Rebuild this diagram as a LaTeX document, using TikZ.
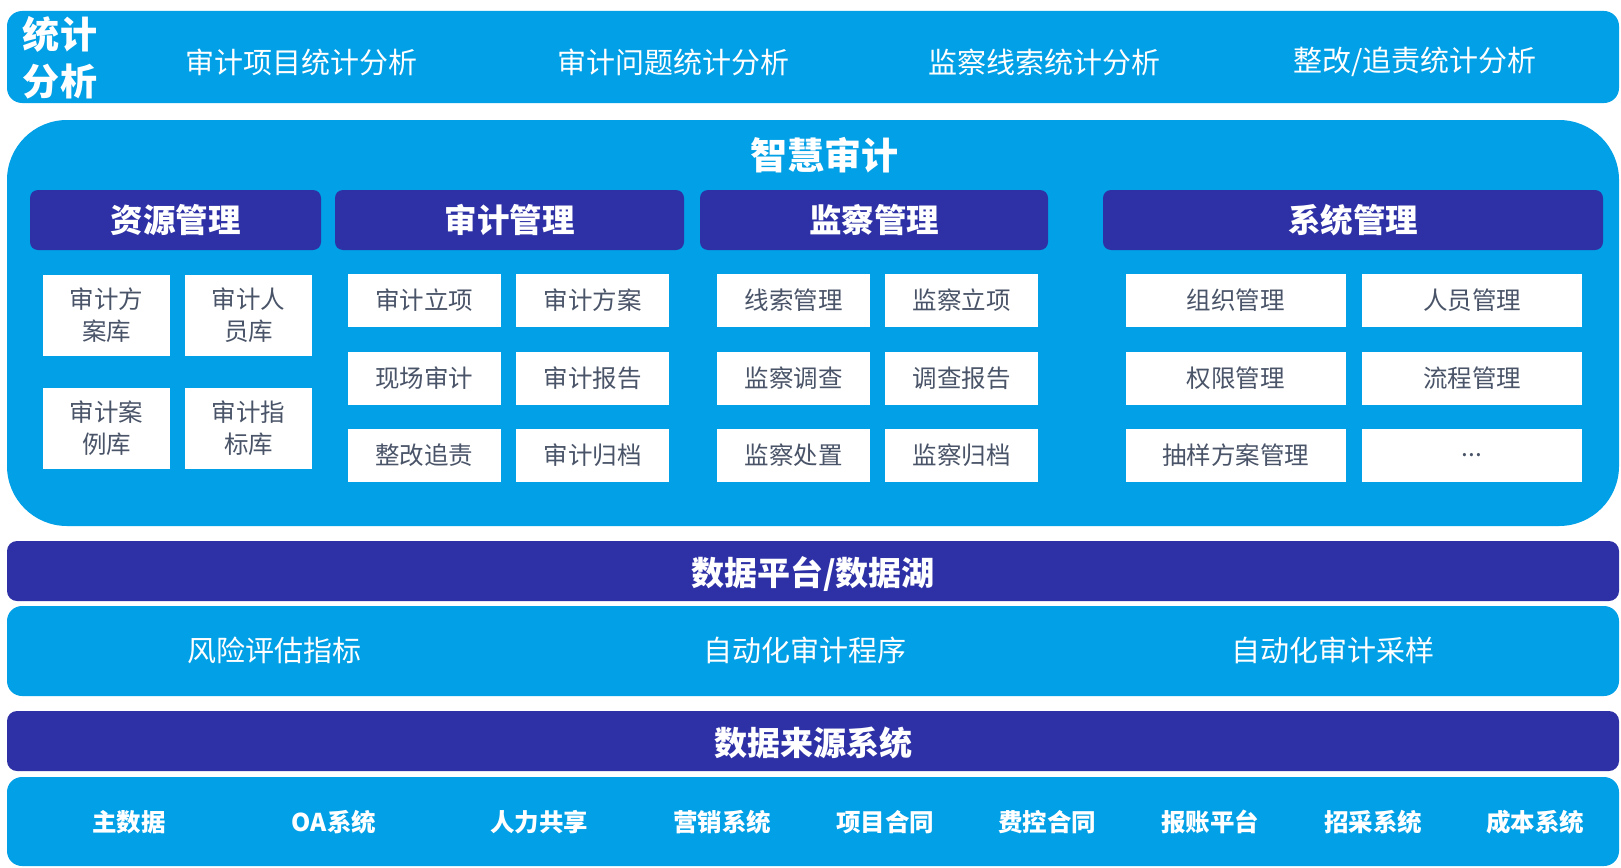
\documentclass[tikz,border=0pt]{standalone}
\usepackage{fontspec}
\setmainfont{Noto Sans CJK SC}
\definecolor{lblue}{RGB}{2,160,230}
\definecolor{dpurple}{RGB}{46,49,166}
\definecolor{boxtext}{RGB}{74,84,104}
\tikzset{
  base/.style={inner sep=0pt, outer sep=0pt, anchor=center},
  lightbar/.style={base, fill=lblue, rounded corners=15pt},
  darkbar/.style={base, fill=dpurple, rounded corners=10pt},
  header/.style={base, fill=dpurple, rounded corners=8pt, minimum height=60pt, text=white, font=\fontsize{32.5}{38}\selectfont\bfseries},
  wbox/.style={base, fill=white, text=boxtext, align=center, font=\fontsize{24.5}{32}\selectfont},
  toptxt/.style={text=white, font=\fontsize{29}{34}\selectfont},
  midtxt/.style={text=white, font=\fontsize{29}{34}\selectfont},
  bigtxt/.style={text=white, font=\fontsize{33}{38}\selectfont\bfseries},
  srctxt/.style={text=white, font=\fontsize{24.5}{30}\selectfont\bfseries},
}
\begin{document}
\begin{tikzpicture}[x=1pt,y=-1pt]
\useasboundingbox (0,0) rectangle (1621,867);
% top statistics bar
\node[lightbar, minimum width=1612pt, minimum height=92pt] (top) at (813,57) {};
\node[text=white, align=left, font=\fontsize{37}{47}\selectfont\bfseries] (tj) at (60,58) {统计\\分析};
\node[toptxt] (t1) at (301,62) {审计项目统计分析};
\node[toptxt] (t2) at (673,62) {审计问题统计分析};
\node[toptxt] (t3) at (1044,62) {监察线索统计分析};
\node[toptxt] (t4) at (1415,62) {整改/追责统计分析};
% big smart-audit box
\node[base, fill=lblue, rounded corners=60pt, minimum width=1612pt, minimum height=406pt] (big) at (813,323) {};
\node[text=white, font=\fontsize{37}{42}\selectfont\bfseries] (zh) at (824,155) {智慧审计};
% headers
\node[header, minimum width=291pt] (h1) at (175.5,220) {资源管理};
\node[header, minimum width=349pt] (h2) at (509.5,220) {审计管理};
\node[header, minimum width=348pt] (h3) at (874,220) {监察管理};
\node[header, minimum width=500pt] (h4) at (1353,220) {系统管理};
% resource boxes
\tikzset{rbox/.style={wbox, minimum width=127pt, minimum height=81pt}}
\node[rbox] (r1) at (106.5,315.5) {审计方\\案库};
\node[rbox] (r2) at (248.5,315.5) {审计人\\员库};
\node[rbox] (r3) at (106.5,428.5) {审计案\\例库};
\node[rbox] (r4) at (248.5,428.5) {审计指\\标库};
% audit boxes
\tikzset{abox/.style={wbox, minimum width=153pt, minimum height=53pt}}
\node[abox] (a1) at (424,300) {审计立项};
\node[abox] (a2) at (592.5,300) {审计方案};
\node[abox] (a3) at (424,378.5) {现场审计};
\node[abox] (a4) at (592.5,378.5) {审计报告};
\node[abox] (a5) at (424,455.5) {整改追责};
\node[abox] (a6) at (592.5,455.5) {审计归档};
% supervision boxes
\node[abox] (s1) at (793.5,300) {线索管理};
\node[abox] (s2) at (961.5,300) {监察立项};
\node[abox] (s3) at (793.5,378.5) {监察调查};
\node[abox] (s4) at (961.5,378.5) {调查报告};
\node[abox] (s5) at (793.5,455.5) {监察处置};
\node[abox] (s6) at (961.5,455.5) {监察归档};
% system boxes
\tikzset{sbox/.style={wbox, minimum width=220pt, minimum height=53pt}}
\node[sbox] (y1) at (1235.5,300) {组织管理};
\node[sbox] (y2) at (1472,300) {人员管理};
\node[sbox] (y3) at (1235.5,378.5) {权限管理};
\node[sbox] (y4) at (1472,378.5) {流程管理};
\node[sbox] (y5) at (1235.5,455.5) {抽样方案管理};
\node[sbox] (y6) at (1472,455.5) {...};
% data platform
\node[darkbar, minimum width=1612pt, minimum height=60pt] (dp) at (813,571) {};
\node[bigtxt] (dpt) at (813,574) {数据平台/数据湖};
\node[lightbar, minimum width=1612pt, minimum height=90pt] (auto) at (813,651) {};
\node[midtxt] (m1) at (274,650) {风险评估指标};
\node[midtxt] (m2) at (805,650) {自动化审计程序};
\node[midtxt] (m3) at (1333,650) {自动化审计采样};
% data sources
\node[darkbar, minimum width=1612pt, minimum height=60pt] (ds) at (813,741) {};
\node[bigtxt] (dst) at (813,743) {数据来源系统};
\node[lightbar, minimum width=1612pt, minimum height=89pt] (src) at (813,821.5) {};
\node[srctxt] (b1) at (129,822) {主数据};
\node[srctxt] (b2) at (334,822) {OA系统};
\node[srctxt] (b3) at (539,822) {人力共享};
\node[srctxt] (b4) at (722,822) {营销系统};
\node[srctxt] (b5) at (885,822) {项目合同};
\node[srctxt] (b6) at (1047,822) {费控合同};
\node[srctxt] (b7) at (1210,822) {报账平台};
\node[srctxt] (b8) at (1373,822) {招采系统};
\node[srctxt] (b9) at (1535,822) {成本系统};
\end{tikzpicture}
\end{document}
